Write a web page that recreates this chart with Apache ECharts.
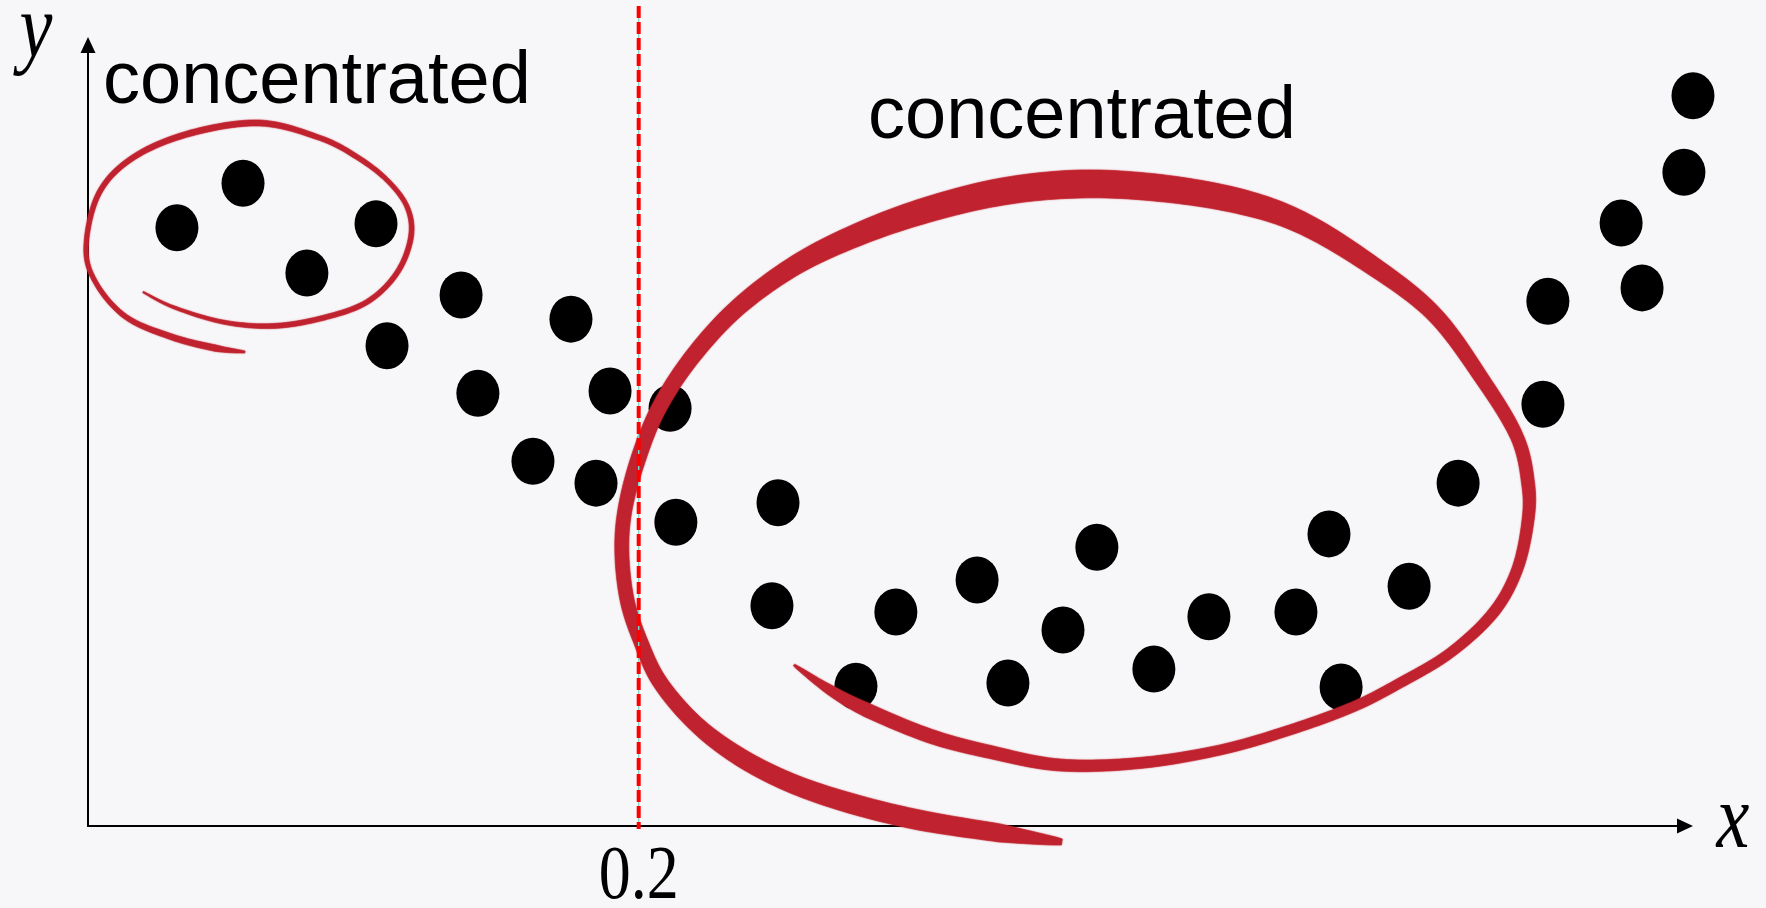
<!DOCTYPE html>
<html>
<head>
<meta charset="utf-8">
<title>concentrated</title>
<style>
  html, body { margin: 0; padding: 0; background: #f7f7fa; }
  #chart { width: 1766px; height: 908px; }
</style>
<script src="https://cdn.jsdelivr.net/npm/echarts@6/dist/echarts.min.js"></script>
</head>
<body>
<div id="chart"></div>
<script>
// Sample points (x in axis units, y normalised 0..1)
const pointX = [0.0323, 0.0563, 0.0795, 0.1046, 0.1355, 0.1086, 0.1754, 0.1416, 0.1896, 0.1616,
                0.1845, 0.2114, 0.2135, 0.2506, 0.2484, 0.2934, 0.2789, 0.3229, 0.3341, 0.3541,
                0.3664, 0.3871, 0.4071, 0.4387, 0.4507, 0.4551, 0.4798, 0.4976, 0.5284, 0.5302,
                0.5568, 0.5644, 0.5796, 0.5829];
const pointY = [0.766, 0.823, 0.708, 0.771, 0.680, 0.615, 0.649, 0.554, 0.557, 0.467,
                0.439, 0.535, 0.389, 0.414, 0.282, 0.274, 0.179, 0.315, 0.183, 0.251,
                0.357, 0.201, 0.268, 0.274, 0.374, 0.178, 0.307, 0.439, 0.540, 0.672,
                0.772, 0.689, 0.837, 0.935];

// Axis range, the single marked tick, and axis names
const xRange = [0, 0.58];
const yRange = [0, 1];
const xTickValues = [0.2];
const xTickLabels = ['0.2'];
const axisNames = { x: 'x', y: 'y' };
const noteText = 'concentrated';

// Hand-drawn loops around the two clusters, in axis units
const smallLoopPath = [[0.0200, 0.6837], [0.0309, 0.6645], [0.0490, 0.6453], [0.0672, 0.6402], [0.0853, 0.6505],
  [0.1013, 0.6709], [0.1122, 0.7081], [0.1173, 0.7542], [0.1159, 0.7926], [0.1086, 0.8271],
  [0.0977, 0.8566], [0.0843, 0.8809], [0.0625, 0.9001], [0.0374, 0.8873], [0.0167, 0.8566],
  [0.0040, 0.8105], [-0.0007, 0.7414], [0.0029, 0.6953], [0.0138, 0.6517], [0.0305, 0.6261],
  [0.0461, 0.6120], [0.0570, 0.6069]];
const smallLoopWidth = [1.5, 3, 4, 5, 5, 5, 5, 5, 4.5, 4.5, 5, 5, 6, 6, 5.5, 5, 4.5, 4.5, 5, 6, 6.5, 2];

const bigLoopPath = [[0.3537, -0.0205], [0.3312, -0.0090], [0.3018, 0.0077], [0.2767, 0.0294], [0.2553, 0.0551],
  [0.2368, 0.0883], [0.2208, 0.1306], [0.2077, 0.1844], [0.2005, 0.2382], [0.1958, 0.2894],
  [0.1939, 0.3495], [0.1950, 0.4046], [0.1997, 0.4686], [0.2070, 0.5327], [0.2186, 0.5967],
  [0.2350, 0.6607], [0.2553, 0.7145], [0.2767, 0.7529], [0.3022, 0.7862], [0.3312, 0.8118],
  [0.3603, 0.8220], [0.3893, 0.8169], [0.4177, 0.8003], [0.4402, 0.7734], [0.4645, 0.7222],
  [0.4885, 0.6568], [0.5066, 0.5711], [0.5190, 0.4981], [0.5230, 0.4392], [0.5230, 0.3918],
  [0.5190, 0.3278], [0.5103, 0.2727], [0.4947, 0.2215], [0.4765, 0.1831], [0.4594, 0.1524],
  [0.4365, 0.1229], [0.4111, 0.0973], [0.3821, 0.0807], [0.3530, 0.0781], [0.3276, 0.0948],
  [0.3058, 0.1152], [0.2829, 0.1485], [0.2695, 0.1741], [0.2564, 0.2061]];
const bigLoopWidth = [6, 18, 20, 20, 19, 18, 16, 15, 14, 14, 14, 14, 15, 15, 16, 17, 19, 22, 25, 27,
  28, 27, 25, 22, 19, 16, 14, 13, 13, 12, 11, 11, 10, 10, 10, 10, 10, 11, 12, 13, 14, 14, 10, 2];

const INK = '#000000';
const PEN = '#c0232f';

const chart = echarts.init(document.getElementById('chart'), null, { renderer: 'canvas' });

const axisLineStyle = {
  show: true,
  onZero: false,
  symbol: ['none', 'triangle'],
  symbolSize: [15, 16],
  lineStyle: { color: INK, width: 2 }
};

chart.setOption({
  backgroundColor: '#f7f7fa',
  animation: false,
  grid: { left: 88, right: 81, top: 45, bottom: 82, containLabel: false, outerBoundsMode: 'none' },
  xAxis: {
    type: 'value', min: xRange[0], max: xRange[1],
    axisLine: axisLineStyle,
    axisTick: { show: false }, axisLabel: { show: false }, splitLine: { show: false }
  },
  yAxis: {
    type: 'value', min: yRange[0], max: yRange[1],
    axisLine: axisLineStyle,
    axisTick: { show: false }, axisLabel: { show: false }, splitLine: { show: false }
  },
  series: [{
    type: 'scatter',
    data: pointX.map((x, i) => [x, pointY[i]]),
    symbol: 'circle',
    symbolSize: [43, 47],
    itemStyle: { color: INK, opacity: 1, borderWidth: 0 },
    emphasis: { disabled: true },
    clip: false,
    z: 2
  }]
});

const toPx = (p) => chart.convertToPixel({ gridIndex: 0 }, p);

// Smooth the loop through its anchors and outline it as a filled band of varying width
function brushStroke(path, widths) {
  const pts = path.map(toPx);
  const dense = [];
  const steps = 12;
  for (let i = 0; i < pts.length - 1; i++) {
    const p0 = pts[Math.max(i - 1, 0)], p1 = pts[i], p2 = pts[i + 1], p3 = pts[Math.min(i + 2, pts.length - 1)];
    for (let s = 0; s < steps; s++) {
      const t = s / steps, t2 = t * t, t3 = t2 * t;
      const c = (k) => 0.5 * (2 * p1[k] + (-p0[k] + p2[k]) * t + (2 * p0[k] - 5 * p1[k] + 4 * p2[k] - p3[k]) * t2 + (-p0[k] + 3 * p1[k] - 3 * p2[k] + p3[k]) * t3);
      dense.push([c(0), c(1), widths[i] + (widths[i + 1] - widths[i]) * t]);
    }
  }
  const last = pts[pts.length - 1];
  dense.push([last[0], last[1], widths[widths.length - 1]]);

  const left = [], right = [];
  for (let i = 0; i < dense.length; i++) {
    const a = dense[Math.max(i - 1, 0)], b = dense[Math.min(i + 1, dense.length - 1)];
    let tx = b[0] - a[0], ty = b[1] - a[1];
    const len = Math.hypot(tx, ty) || 1;
    tx /= len; ty /= len;
    const h = dense[i][2] / 2;
    left.push([dense[i][0] - ty * h, dense[i][1] + tx * h]);
    right.push([dense[i][0] + ty * h, dense[i][1] - tx * h]);
  }
  return {
    type: 'polygon',
    shape: { points: left.concat(right.reverse()) },
    style: { fill: PEN, stroke: PEN, lineWidth: 0.6, shadowBlur: 1.5, shadowColor: 'rgba(192,35,47,0.6)' },
    z: 10
  };
}

const graphics = [];
graphics.push(brushStroke(smallLoopPath, smallLoopWidth));
graphics.push(brushStroke(bigLoopPath, bigLoopWidth));

// Threshold line at x = 0.2, running from the axis to the top edge
xTickValues.forEach((v, i) => {
  const base = toPx([v, yRange[0]]);
  graphics.push({
    type: 'line', z: 20,
    shape: { x1: base[0], y1: 6, x2: base[0], y2: base[1] + 3 },
    style: { stroke: '#7fd8c6', lineWidth: 1.4 }
  });
  graphics.push({
    type: 'line', z: 21,
    shape: { x1: base[0], y1: 6, x2: base[0], y2: base[1] + 3 },
    style: { stroke: '#ff0000', lineWidth: 4, lineDash: [12, 4], lineCap: 'butt' }
  });
  graphics.push({
    type: 'text', z: 20,
    x: base[0], y: 878, scaleY: 1.2,
    style: {
      text: xTickLabels[i], fill: INK,
      fontSize: 64, fontFamily: '"Liberation Serif", "DejaVu Serif", serif',
      align: 'center', verticalAlign: 'middle'
    }
  });
});

// Axis names
const serifItalic = { fontSize: 74, fontStyle: 'italic', fontFamily: '"Liberation Serif", "DejaVu Serif", serif', fill: INK, align: 'center', verticalAlign: 'middle' };
graphics.push({ type: 'text', z: 20, x: 1733, y: 823, scaleY: 1.22, style: Object.assign({ text: axisNames.x }, serifItalic) });
graphics.push({ type: 'text', z: 20, x: 36, y: 33, scaleY: 1.22, style: Object.assign({ text: axisNames.y }, serifItalic) });

// Cluster notes
const noteStyle = { text: noteText, fill: INK, fontSize: 74, fontFamily: '"Liberation Sans", Arial, sans-serif', align: 'left', verticalAlign: 'middle' };
graphics.push({ type: 'text', z: 20, x: 103, y: 83, style: Object.assign({}, noteStyle) });
graphics.push({ type: 'text', z: 20, x: 868, y: 118, style: Object.assign({}, noteStyle) });

chart.setOption({ graphic: graphics });
</script>
</body>
</html>
